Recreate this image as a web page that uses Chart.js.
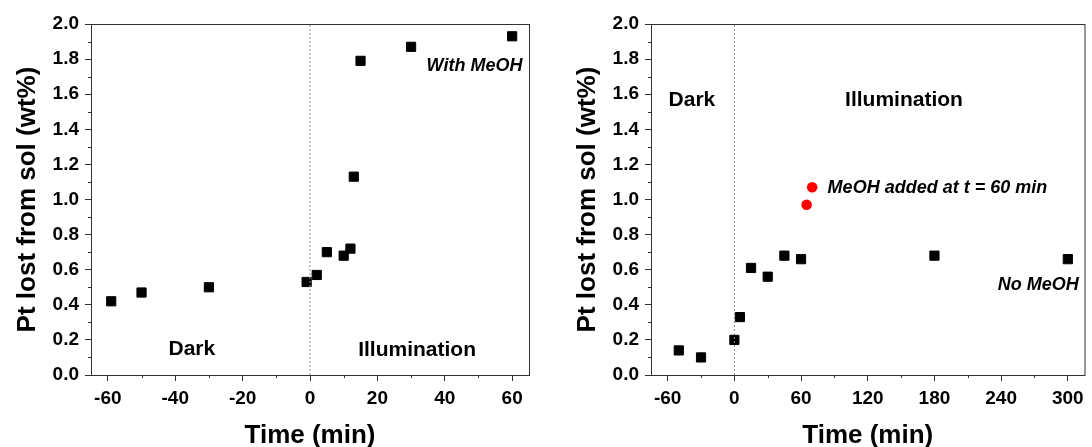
<!DOCTYPE html>
<html>
<head>
<meta charset="utf-8">
<script src="https://cdn.jsdelivr.net/npm/chart.js@4/dist/chart.umd.min.js"></script>
<style>
  html, body { margin: 0; padding: 0; background: #fff; }
  .panel { position: absolute; top: 0; width: 546px; height: 447px; }
</style>
</head>
<body>
<div class="panel" style="left:0"><canvas id="withMeoh" width="546" height="447"></canvas></div>
<div class="panel" style="left:546px"><canvas id="noMeoh" width="546" height="447"></canvas></div>
<script>
// left panel: with MeOH
const timeWith = [-59, -50, -30, -1, 2, 5, 10, 12, 13, 15, 30, 60];
const lossWith = [0.42, 0.47, 0.50, 0.53, 0.57, 0.70, 0.68, 0.72, 1.13, 1.79, 1.87, 1.93];

// right panel: no MeOH, plus the two points after MeOH was added
const timeNo = [-50, -30, 0, 5, 15, 30, 45, 60, 180, 300];
const lossNo = [0.14, 0.10, 0.20, 0.33, 0.61, 0.56, 0.68, 0.66, 0.68, 0.66];
const timeAdded = [65, 70];
const lossAdded = [0.97, 1.07];

// ticks
const xTicksLeft = [-60, -40, -20, 0, 20, 40, 60];
const xMinorLeft = [-50, -30, -10, 10, 30, 50];
const xTicksRight = [-60, 0, 60, 120, 180, 240, 300];
const xMinorRight = [-30, 30, 90, 150, 210, 270];
const yTicks = [0.0, 0.2, 0.4, 0.6, 0.8, 1.0, 1.2, 1.4, 1.6, 1.8, 2.0];
const yMinor = [0.1, 0.3, 0.5, 0.7, 0.9, 1.1, 1.3, 1.5, 1.7, 1.9];

const axisColor = '#333';
const fam = '"Liberation Sans", Arial, sans-serif';
Chart.defaults.font.family = fam;
Chart.defaults.color = '#000';

const pts = (xs, ys) => xs.map((x, i) => ({ x: x, y: ys[i] }));

// frame, minor ticks and the text notes
function decor(xMinor, notes) {
  return {
    id: 'decor',
    afterDraw(chart) {
      const { ctx, chartArea: a, scales: { x, y } } = chart;
      ctx.save();
      ctx.strokeStyle = axisColor;
      ctx.lineWidth = 1;
      ctx.strokeRect(a.left + 0.5, a.top + 0.5, a.right - a.left, a.bottom - a.top);
      ctx.beginPath();
      xMinor.forEach(v => {
        const px = Math.round(x.getPixelForValue(v)) + 0.5;
        ctx.moveTo(px, a.bottom);
        ctx.lineTo(px, a.bottom + 3);
      });
      yMinor.forEach(v => {
        const py = Math.round(y.getPixelForValue(v)) + 0.5;
        ctx.moveTo(a.left, py);
        ctx.lineTo(a.left - 3, py);
      });
      ctx.stroke();
      ctx.fillStyle = '#000';
      ctx.textAlign = 'left';
      ctx.textBaseline = 'middle';
      notes.forEach(n => {
        ctx.font = n.font;
        ctx.fillText(n.text, x.getPixelForValue(n.x), y.getPixelForValue(n.y));
      });
      ctx.restore();
    }
  };
}

const noteBold = 'bold 21px ' + fam;
const noteItal = 'italic bold 18px ' + fam;

function makeChart(id, c) {
  return new Chart(document.getElementById(id), {
    type: 'scatter',
    data: {
      datasets: [{
        data: [{ x: 0, y: 0 }, { x: 0, y: 2 }],
        showLine: true,
        borderColor: '#8a8a8a',
        borderWidth: 1,
        borderDash: [2, 2],
        pointRadius: 0
      }].concat(c.datasets)
    },
    options: {
      responsive: false,
      animation: false,
      layout: { padding: c.padding },
      plugins: { legend: { display: false }, tooltip: { enabled: false } },
      scales: {
        x: {
          type: 'linear',
          min: c.xMin,
          max: c.xMax,
          afterBuildTicks: s => { s.ticks = c.xTicks.map(v => ({ value: v })); },
          afterFit: s => { s.height = 72; s.paddingLeft = 0; s.paddingRight = 0; },
          ticks: { padding: 6, autoSkip: false, maxRotation: 0, font: { size: 19, weight: 'bold' } },
          grid: { drawOnChartArea: false, tickLength: 6, color: axisColor },
          border: { color: axisColor, width: 1 },
          title: {
            display: true,
            text: 'Time (min)',
            font: { size: 26, weight: 'bold', lineHeight: 1 },
            padding: { top: 0, bottom: -2 }
          }
        },
        y: {
          type: 'linear',
          min: 0,
          max: 2,
          afterBuildTicks: s => { s.ticks = yTicks.map(v => ({ value: v })); },
          afterFit: s => { s.width = 91; s.paddingTop = 0; s.paddingBottom = 0; },
          ticks: { padding: 6, autoSkip: false, font: { size: 19, weight: 'bold' }, callback: v => v.toFixed(1) },
          grid: { drawOnChartArea: false, tickLength: 6, color: axisColor },
          border: { color: axisColor, width: 1 },
          title: {
            display: true,
            text: 'Pt lost from sol (wt%)',
            font: { size: 26, weight: 'bold', lineHeight: 1 },
            padding: { top: 14.5, bottom: 0 }
          }
        }
      }
    },
    plugins: [decor(c.xMinor, c.notes)]
  });
}

const square = {
  pointStyle: 'rect',
  pointRadius: 6.5,
  pointHoverRadius: 6.5,
  backgroundColor: '#000',
  borderColor: '#000',
  borderWidth: 1
};

makeChart('withMeoh', {
  xMin: -65, xMax: 65,
  xTicks: xTicksLeft, xMinor: xMinorLeft,
  padding: { left: 0, right: 17, top: 24, bottom: 0 },
  datasets: [Object.assign({ data: pts(timeWith, lossWith) }, square)],
  notes: [
    { text: 'Dark', x: -42, y: 0.145, font: noteBold },
    { text: 'Illumination', x: 14.3, y: 0.141, font: noteBold },
    { text: 'With MeOH', x: 34.6, y: 1.763, font: noteItal }
  ]
});

makeChart('noMeoh', {
  xMin: -75, xMax: 315,
  xTicks: xTicksRight, xMinor: xMinorRight,
  padding: { left: 14, right: 4, top: 24, bottom: 0 },
  datasets: [
    Object.assign({ data: pts(timeNo, lossNo) }, square),
    {
      data: pts(timeAdded, lossAdded),
      pointStyle: 'circle',
      pointRadius: 5.3,
      pointHoverRadius: 5.3,
      backgroundColor: '#ff0000',
      borderColor: '#ff0000',
      borderWidth: 0
    }
  ],
  notes: [
    { text: 'Dark', x: -59.2, y: 1.568, font: noteBold },
    { text: 'Illumination', x: 99.6, y: 1.568, font: noteBold },
    { text: 'MeOH added at t = 60 min', x: 83.9, y: 1.065, font: noteItal },
    { text: 'No MeOH', x: 237, y: 0.515, font: noteItal }
  ]
});
</script>
</body>
</html>
